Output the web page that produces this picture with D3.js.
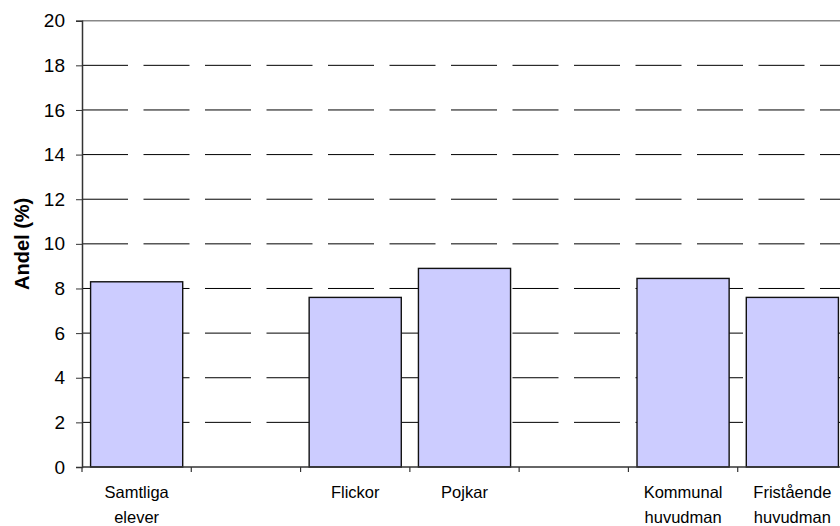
<!DOCTYPE html>
<html>
<head>
<meta charset="utf-8">
<script src="https://cdn.jsdelivr.net/npm/d3@7"></script>
<style>
  body { margin: 0; background: #fff; }
  svg { display: block; font-family: "Liberation Sans", Arial, sans-serif; }
</style>
</head>
<body>
<div id="chart"></div>
<script>
// Data
const categories = ["Samtliga elever", "", "Flickor", "Pojkar", " ", "Kommunal huvudman", "Fristående huvudman"];
const values = [8.3, null, 7.6, 8.9, null, 8.45, 7.6];
const yTicks = [0, 2, 4, 6, 8, 10, 12, 14, 16, 18, 20];

const width = 840, height = 526;
const margin = { top: 20.7, right: -7, bottom: 59, left: 82 };

const svg = d3.select("#chart")
  .append("svg")
  .attr("width", width)
  .attr("height", height);

const innerW = width - margin.left - margin.right;
const innerH = height - margin.top - margin.bottom;

const g = svg.append("g")
  .attr("transform", `translate(${margin.left},${margin.top})`);

// Scales
const x = d3.scaleBand()
  .domain(categories)
  .range([0, innerW])
  .paddingInner(0.157)
  .paddingOuter(0.0785);

const slot = d3.scaleBand()
  .domain(categories)
  .range([0, innerW])
  .padding(0);

const y = d3.scaleLinear()
  .domain([0, 20])
  .range([innerH, 0]);

// Gridlines
g.append("g")
  .selectAll("line")
  .data(yTicks.filter(d => d > 0 && d < 20))
  .enter()
  .append("line")
  .attr("x1", 0)
  .attr("x2", innerW)
  .attr("y1", d => y(d))
  .attr("y2", d => y(d))
  .attr("stroke", "#000")
  .attr("stroke-width", 1)
  .attr("stroke-dasharray", "46,15.5");

g.append("line")
  .attr("x1", 0)
  .attr("x2", innerW)
  .attr("y1", y(20))
  .attr("y2", y(20))
  .attr("stroke", "#888")
  .attr("stroke-width", 1.5);

// Bars
g.selectAll("rect.bar")
  .data(categories.map((c, i) => ({ c, v: values[i] })).filter(d => d.v != null))
  .enter()
  .append("rect")
  .attr("class", "bar")
  .attr("x", d => x(d.c))
  .attr("y", d => y(d.v))
  .attr("width", x.bandwidth())
  .attr("height", d => innerH - y(d.v))
  .attr("fill", "#ccccff")
  .attr("stroke", "#111")
  .attr("stroke-width", 1.4);

// Y axis
const yAxis = g.append("g")
  .call(d3.axisLeft(y).tickValues(yTicks).tickSize(6).tickPadding(11));
yAxis.select(".domain").attr("stroke", "#333").attr("stroke-width", 1.5);
yAxis.selectAll(".tick line").attr("stroke", "#333");
yAxis.selectAll("text")
  .attr("font-size", 19)
  .attr("font-family", "Liberation Sans, Arial, sans-serif")
  .attr("fill", "#000");

// X axis line and boundary ticks
const bounds = categories.map(c => slot(c)).concat([innerW]);
g.append("line")
  .attr("x1", 0)
  .attr("x2", innerW)
  .attr("y1", innerH)
  .attr("y2", innerH)
  .attr("stroke", "#333")
  .attr("stroke-width", 1.5);
g.append("g")
  .selectAll("line")
  .data(bounds)
  .enter()
  .append("line")
  .attr("x1", d => d)
  .attr("x2", d => d)
  .attr("y1", innerH)
  .attr("y2", innerH + 5)
  .attr("stroke", "#333")
  .attr("stroke-width", 1.2);

// Category labels
const labels = g.append("g")
  .selectAll("text")
  .data(categories.filter(c => c.trim() !== ""))
  .enter()
  .append("text")
  .attr("text-anchor", "middle")
  .attr("font-size", 16.5)
  .attr("fill", "#000")
  .attr("transform", d => `translate(${slot(d) + slot.bandwidth() / 2},${innerH + 31})`);

labels.each(function(d) {
  const words = d.split(" ");
  const t = d3.select(this);
  words.forEach((w, i) => {
    t.append("tspan")
      .attr("x", 0)
      .attr("dy", i === 0 ? 0 : 25)
      .text(w);
  });
});

// Y axis title
svg.append("text")
  .attr("transform", `translate(29,${margin.top + y(10)}) rotate(-90)`)
  .attr("text-anchor", "middle")
  .attr("font-size", 20)
  .attr("font-weight", "bold")
  .text("Andel (%)");
</script>
</body>
</html>
